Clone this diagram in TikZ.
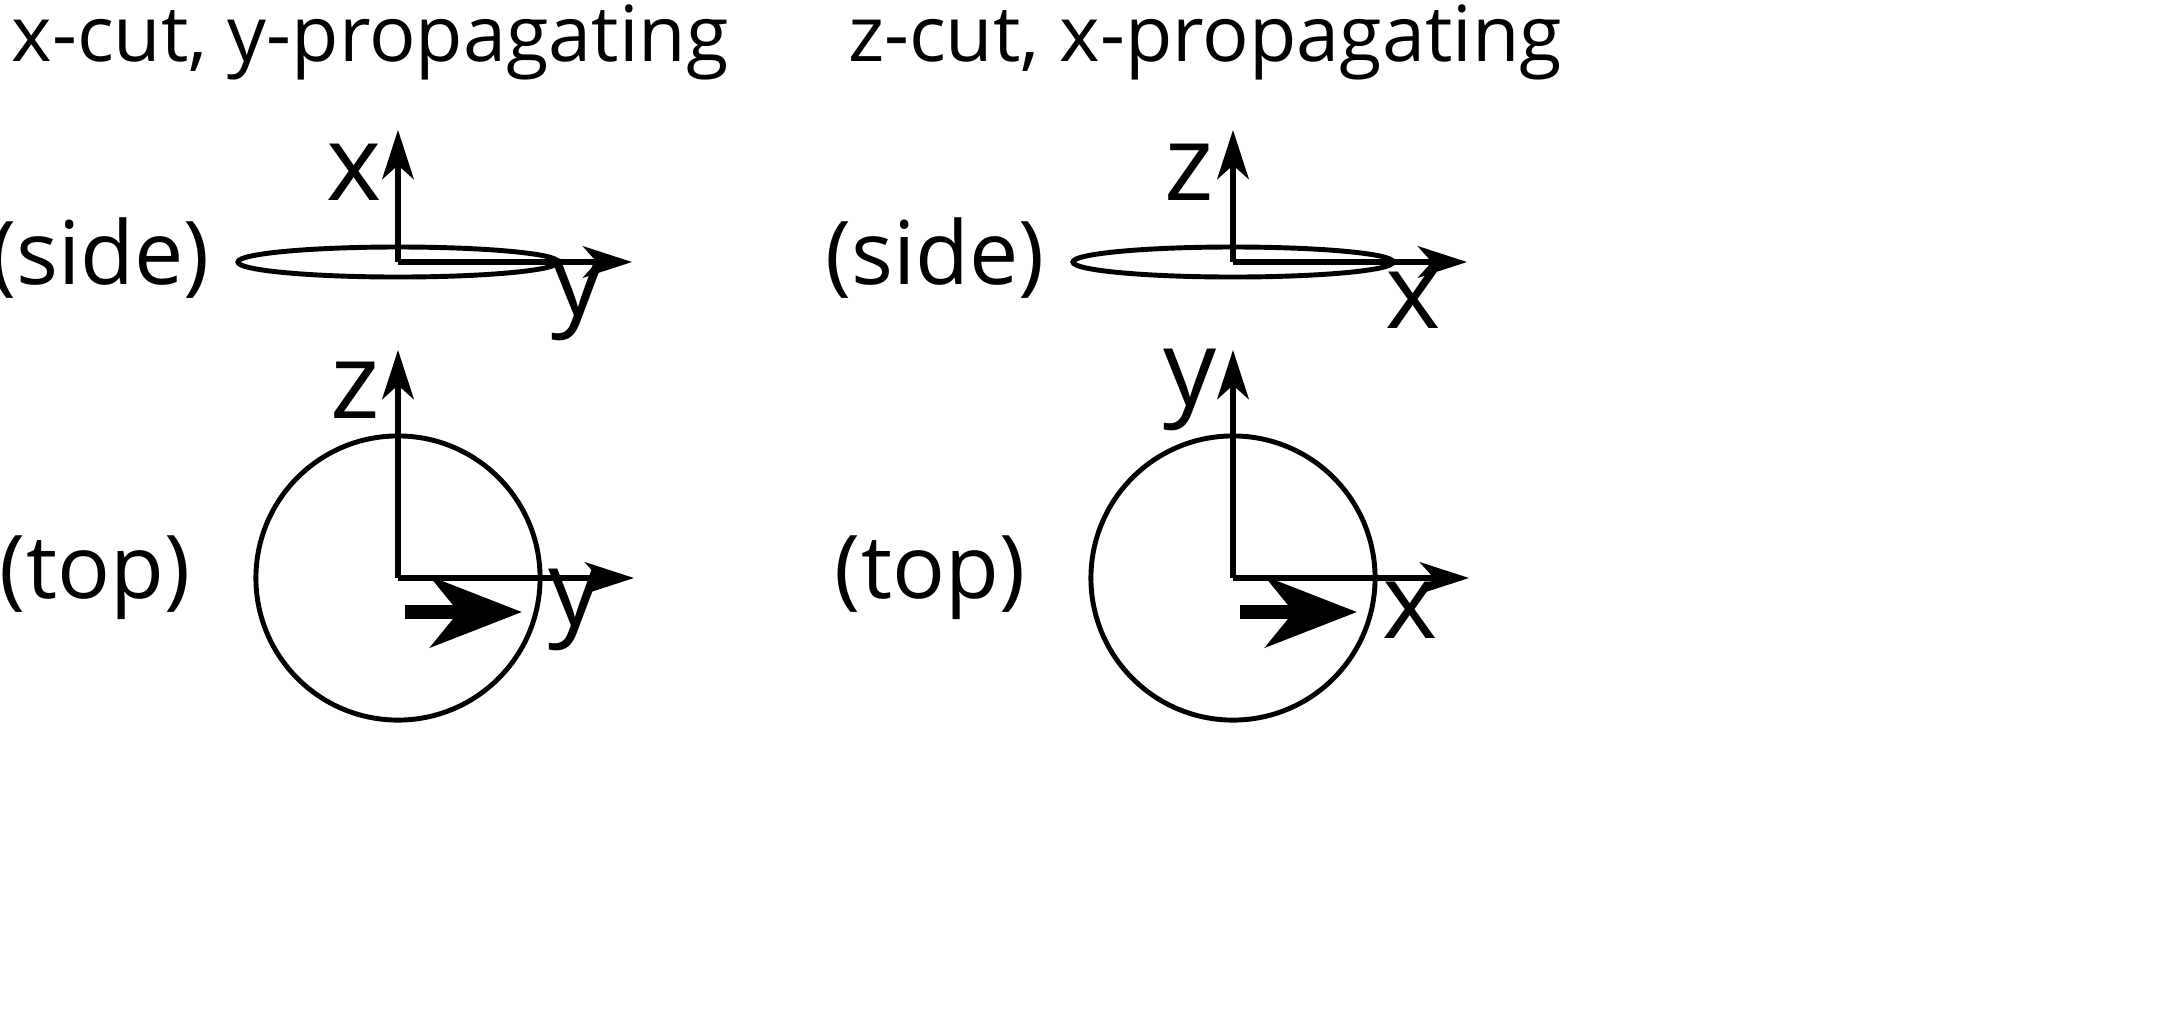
\documentclass[tikz,border=0pt]{standalone}
\usepackage{fontspec}
\setmainfont{Open Sans}
\usetikzlibrary{arrows.meta}
\newcommand\mypanel[6]{%
  \begin{scope}[shift={(#1,0)}]
  \node[ttl] (#2title) at (370,42) {#3};
  \coordinate (#2o1) at (398,262);
  \coordinate (#2v1) at (398,130);
  \coordinate (#2h1) at (632,262);
  \draw[shp] (#2o1) ellipse [x radius=1.6cm, y radius=0.15cm];
  \draw[ax] (#2o1) -- (#2v1);
  \draw[ax] (#2o1) -- (#2h1);
  \node[lab] (#2a) at (354,172) {#4};
  \node[lab] (#2b) at (578,300) {#5};
  \node[vw] (#2side) at (100,258) {(side)};
  \coordinate (#2o2) at (398,578);
  \coordinate (#2v2) at (398,350);
  \coordinate (#2h2) at (634,578);
  \draw[shp] (#2o2) circle [radius=1.42cm];
  \draw[ax] (#2o2) -- (#2v2);
  \draw[ax] (#2o2) -- (#2h2);
  \coordinate (#2s) at (405,612);
  \coordinate (#2e) at (522,612);
  \draw[big] (#2s) -- (#2e);
  \node[lab] (#2c) at (355,390) {#6};
  \node[lab] (#2d) at (575,610) {#5};
  \node[vw] (#2top) at (95,578) {(top)};
  \end{scope}}
\begin{document}
\begin{tikzpicture}[x=0.01cm,y=-0.01cm,
  ax/.style={line width=1.6pt,-{Stealth[length=14pt,width=9pt,inset=4pt]}},
  big/.style={line width=4pt,-{Stealth[length=26pt,width=20pt,inset=8pt]}},
  ttl/.style={font=\fontsize{22}{26}\selectfont},
  lab/.style={font=\fontsize{30}{32}\selectfont},
  vw/.style={font=\fontsize{25}{28}\selectfont},
  shp/.style={line width=1.4pt}]
\useasboundingbox (0,0) rectangle (2163,1008);
\begin{pgfinterruptboundingbox}
\mypanel{0}{L}{x-cut, y-propagating}{x}{y}{z}
\mypanel{835}{R}{z-cut, x-propagating}{z}{x}{y}
\end{pgfinterruptboundingbox}
\end{tikzpicture}
\end{document}
